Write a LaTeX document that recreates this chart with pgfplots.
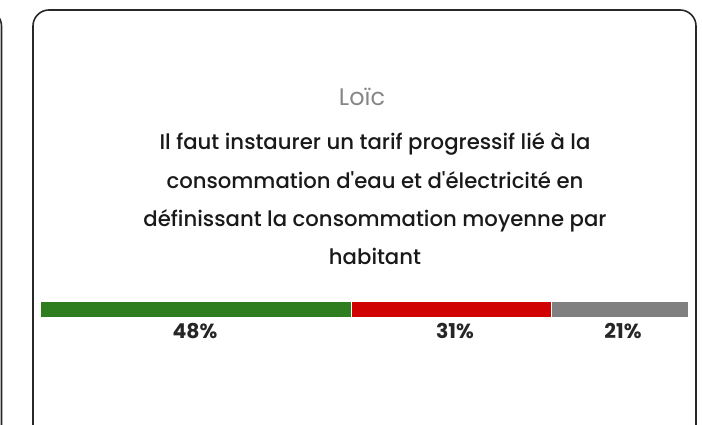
\documentclass[border=0pt]{standalone}
\usepackage{fontspec}
\setmainfont{Poppins}
\newfontfamily\bodyfont{Poppins}[UprightFont={* Medium},BoldFont={* Bold}]
\usepackage{pgfplots}
\pgfplotsset{compat=1.18}
\definecolor{cgreen}{RGB}{46,125,30}
\definecolor{cred}{RGB}{208,2,2}
\definecolor{cgray}{RGB}{128,128,128}
\definecolor{cborder}{RGB}{40,40,40}
\tikzset{lbl/.style={font=\bodyfont\bfseries\fontsize{20.5}{22}\selectfont,text=black!85,anchor=base},
  body/.style={font=\bodyfont\fontsize{21.3}{24}\selectfont,text=black!90,anchor=base}}
\begin{document}
\begin{tikzpicture}
\path[use as bounding box] (0,0) rectangle (702bp,425bp);
\begin{scope}
\clip (0,0) rectangle (702bp,425bp);
\draw[cborder,line width=1.6bp,rounded corners=16bp] (-100bp,415bp) rectangle (1.5bp,-40bp);
\draw[cborder,line width=1.6bp,rounded corners=16bp] (33bp,415bp) rectangle (696bp,-40bp);
\end{scope}
\node[text=gray!95,font=\fontsize{24}{26}\selectfont,anchor=base] at (362bp,319bp) {Loïc};
\node[body] at (375bp,275bp) {Il faut instaurer un tarif progressif lié à la};
\node[body] at (375bp,236.5bp) {consommation d'eau et d'électricité en};
\node[body] at (375bp,198.5bp) {définissant la consommation moyenne par};
\node[body] at (375bp,160.5bp) {habitant};
\begin{axis}[
  at={(40bp,107bp)}, anchor=south west,
  scale only axis, width=648bp, height=16bp,
  xmin=0, xmax=100, ymin=-0.5, ymax=0.5,
  hide axis,
  xbar stacked, bar width=16bp,
  clip=false,
]
\addplot[fill=cgreen, draw=white, line width=1bp] coordinates {(48,0)};
\addplot[fill=cred, draw=white, line width=1bp] coordinates {(31,0)};
\addplot[fill=cgray, draw=white, line width=1bp] coordinates {(21,0)};
\end{axis}
\node[lbl] at (195bp,86bp) {48\%};
\node[lbl] at (455bp,86bp) {31\%};
\node[lbl] at (623bp,86bp) {21\%};
\end{tikzpicture}
\end{document}
